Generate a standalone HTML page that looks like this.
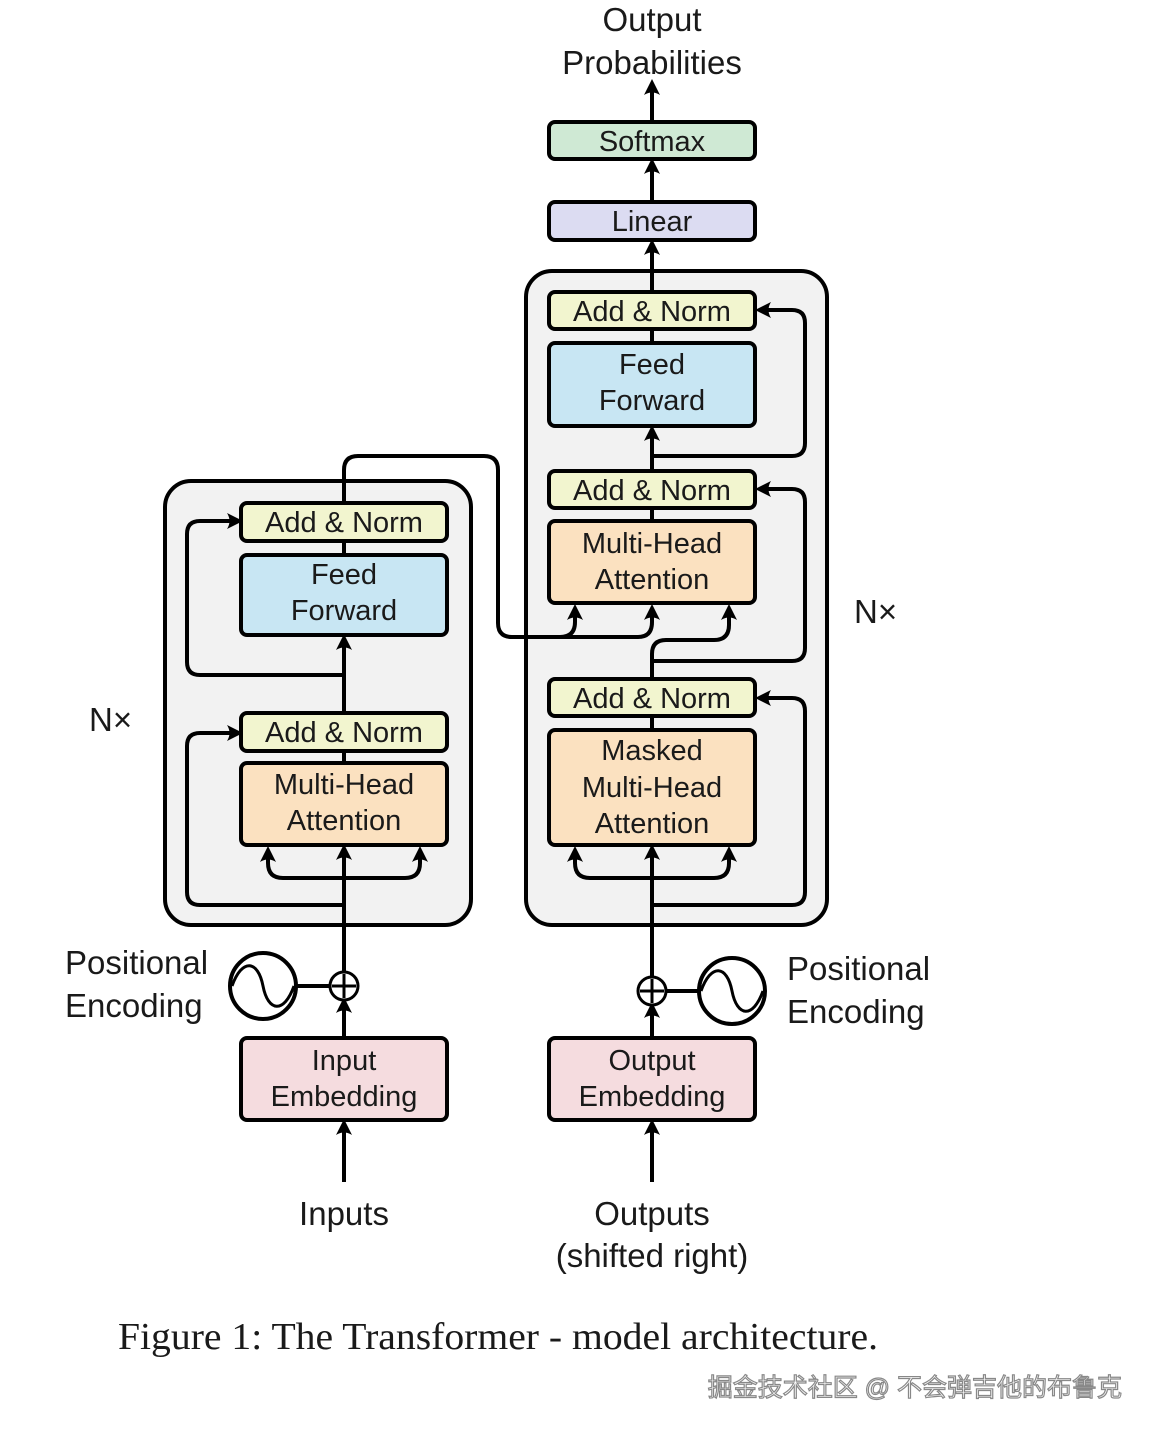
<!DOCTYPE html>
<html><head><meta charset="utf-8"><style>
html,body{margin:0;padding:0;background:#fff;}
svg{display:block;}
text{font-family:"Liberation Sans",Helvetica,sans-serif;fill:#1a1a1a;}
</style></head><body>
<svg width="1158" height="1436" viewBox="0 0 1158 1436" xmlns="http://www.w3.org/2000/svg">
<defs>
<marker id="a" markerUnits="userSpaceOnUse" markerWidth="24" markerHeight="24" refX="12" refY="12" orient="auto" viewBox="0 0 24 24">
<path d="M23,12 L7,4 Q12,12 7,20 Z" fill="#000"/>
</marker>
</defs>
<rect x="165" y="481" width="306" height="444" rx="26" fill="#f2f2f2" stroke="#000" stroke-width="4"/>
<rect x="526" y="271" width="301" height="654" rx="26" fill="#f2f2f2" stroke="#000" stroke-width="4"/>

<g fill="none" stroke="#000" stroke-width="4">
<line x1="344" y1="1182" x2="344" y2="1130" marker-end="url(#a)"/>
<line x1="344" y1="1038" x2="344" y2="1008" marker-end="url(#a)"/>
<line x1="344" y1="972" x2="344" y2="855" marker-end="url(#a)"/>
<path d="M344,878 H283 Q268,878 268,863 V857" marker-end="url(#a)"/>
<path d="M344,878 H405 Q420,878 420,863 V857" marker-end="url(#a)"/>
<path d="M344,905 H200 Q187,905 187,892 V746 Q187,733 200,733 H232" marker-end="url(#a)"/>
<line x1="344" y1="763" x2="344" y2="751"/>
<line x1="344" y1="713" x2="344" y2="645" marker-end="url(#a)"/>
<path d="M344,675 H200 Q187,675 187,662 V534 Q187,521 200,521 H232" marker-end="url(#a)"/>
<line x1="344" y1="555" x2="344" y2="541"/>
<path d="M344,503 V470 Q344,456 358,456 H484 Q498,456 498,470 V623 Q498,637 512,637 H560 Q575,637 575,622 V615" marker-end="url(#a)"/>
<path d="M560,637 H638 Q652,637 652,622 V615" marker-end="url(#a)"/>
<line x1="652" y1="1182" x2="652" y2="1130" marker-end="url(#a)"/>
<line x1="652" y1="1038" x2="652" y2="1013" marker-end="url(#a)"/>
<line x1="652" y1="977" x2="652" y2="855" marker-end="url(#a)"/>
<path d="M652,878 H590 Q575,878 575,863 V857" marker-end="url(#a)"/>
<path d="M652,878 H714 Q729,878 729,863 V857" marker-end="url(#a)"/>
<path d="M652,905 H792 Q805,905 805,892 V711 Q805,698 792,698 H766" marker-end="url(#a)"/>
<line x1="652" y1="730" x2="652" y2="716"/>
<path d="M652,679 V654 Q652,640 666,640 H714 Q729,640 729,625 V615" marker-end="url(#a)"/>
<path d="M652,661 H792 Q805,661 805,648 V502 Q805,489 792,489 H766" marker-end="url(#a)"/>
<line x1="652" y1="521" x2="652" y2="508"/>
<line x1="652" y1="471" x2="652" y2="436" marker-end="url(#a)"/>
<path d="M652,456 H792 Q805,456 805,443 V323 Q805,310 792,310 H766" marker-end="url(#a)"/>
<line x1="652" y1="343" x2="652" y2="329"/>
<line x1="652" y1="292" x2="652" y2="250" marker-end="url(#a)"/>
<line x1="652" y1="202" x2="652" y2="169" marker-end="url(#a)"/>
<line x1="652" y1="122" x2="652" y2="90" marker-end="url(#a)"/>
<line x1="296" y1="986" x2="330" y2="986"/>
<line x1="666" y1="991" x2="699" y2="991"/>
</g>

<g stroke="#000" stroke-width="4">
<rect x="241" y="503" width="206" height="38" rx="6" fill="#f2f5cf"/>
<rect x="241" y="555" width="206" height="80" rx="6" fill="#c8e6f3"/>
<rect x="241" y="713" width="206" height="38" rx="6" fill="#f2f5cf"/>
<rect x="241" y="763" width="206" height="82" rx="6" fill="#fbe1c0"/>
<rect x="241" y="1038" width="206" height="82" rx="6" fill="#f5dcdf"/>
<rect x="549" y="122" width="206" height="37" rx="6" fill="#cfe9d4"/>
<rect x="549" y="202" width="206" height="38" rx="6" fill="#dcdcf2"/>
<rect x="549" y="292" width="206" height="37" rx="6" fill="#f2f5cf"/>
<rect x="549" y="343" width="206" height="83" rx="6" fill="#c8e6f3"/>
<rect x="549" y="471" width="206" height="37" rx="6" fill="#f2f5cf"/>
<rect x="549" y="521" width="206" height="82" rx="6" fill="#fbe1c0"/>
<rect x="549" y="679" width="206" height="37" rx="6" fill="#f2f5cf"/>
<rect x="549" y="730" width="206" height="115" rx="6" fill="#fbe1c0"/>
<rect x="549" y="1038" width="206" height="82" rx="6" fill="#f5dcdf"/>
</g>

<g fill="#fff" stroke="#000" stroke-width="3">
<circle cx="344" cy="986" r="14"/>
<circle cx="652" cy="991" r="14"/>
<circle cx="263" cy="986" r="33" stroke-width="4"/>
<circle cx="732" cy="991" r="33" stroke-width="4"/>
</g>
<g fill="none" stroke="#000" stroke-width="3">
<path d="M332,986 H356 M344,974 V998"/>
<path d="M640,991 H664 M652,979 V1003"/>
<path d="M232,986 C242,958 258,960 263,986 C268,1012 284,1014 294,986"/>
<path d="M701,991 C711,963 727,965 732,991 C737,1017 753,1019 763,991"/>
</g>

<g font-size="29" text-anchor="middle">
<text x="344" y="532">Add &amp; Norm</text>
<text x="344" y="584">Feed</text>
<text x="344" y="620">Forward</text>
<text x="344" y="742">Add &amp; Norm</text>
<text x="344" y="794">Multi-Head</text>
<text x="344" y="830">Attention</text>
<text x="344" y="1070">Input</text>
<text x="344" y="1106">Embedding</text>
<text x="652" y="151">Softmax</text>
<text x="652" y="231">Linear</text>
<text x="652" y="321">Add &amp; Norm</text>
<text x="652" y="374">Feed</text>
<text x="652" y="410">Forward</text>
<text x="652" y="500">Add &amp; Norm</text>
<text x="652" y="553">Multi-Head</text>
<text x="652" y="589">Attention</text>
<text x="652" y="708">Add &amp; Norm</text>
<text x="652" y="760">Masked</text>
<text x="652" y="797">Multi-Head</text>
<text x="652" y="833">Attention</text>
<text x="652" y="1070">Output</text>
<text x="652" y="1106">Embedding</text>
</g>
<g font-size="33">
<text x="652" y="31" text-anchor="middle">Output</text>
<text x="652" y="74" text-anchor="middle">Probabilities</text>
<text x="344" y="1225" text-anchor="middle">Inputs</text>
<text x="652" y="1225" text-anchor="middle">Outputs</text>
<text x="652" y="1267" text-anchor="middle">(shifted right)</text>
<text x="65" y="974">Positional</text>
<text x="65" y="1017">Encoding</text>
<text x="787" y="980">Positional</text>
<text x="787" y="1023">Encoding</text>
<text x="89" y="731" font-size="33">N×</text>
<text x="854" y="623" font-size="33">N×</text>
</g>
<text x="118" y="1349" font-size="38" textLength="760" lengthAdjust="spacingAndGlyphs" style="font-family:'Liberation Serif',serif">Figure 1: The Transformer - model architecture.</text>
<text x="1122" y="1396" font-size="25" text-anchor="end" style="font-family:'Liberation Sans','Noto Sans CJK SC',sans-serif;fill:#fff;stroke:#888;stroke-width:1.2">掘金技术社区 @ 不会弹吉他的布鲁克</text>
</svg>
</body></html>
